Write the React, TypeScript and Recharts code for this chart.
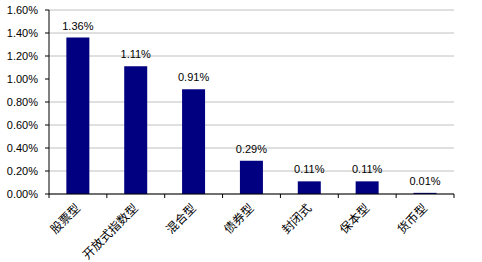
import React from 'react';
import { Bar, BarChart, CartesianGrid, LabelList, XAxis, YAxis } from 'recharts';

const categories = ['股票型', '开放式指数型', '混合型', '债券型', '封闭式', '保本型', '货币型'];
const values = [1.36, 1.11, 0.91, 0.29, 0.11, 0.11, 0.01];
const yTicks = [0, 0.2, 0.4, 0.6, 0.8, 1.0, 1.2, 1.4, 1.6];

const data = categories.map((name, i) => ({ name, value: values[i] }));

const pct = (v: number) => `${v.toFixed(2)}%`;

// half the category band, used to put x tick marks on the band edges
const HALF_BAND = (454 - 49) / categories.length / 2;

const CategoryTick = ({ x, y, payload, index }: any) => (
  <g>
    <line x1={x - HALF_BAND} y1={y - 8} x2={x - HALF_BAND} y2={y - 4} stroke="#000" />
    {index === categories.length - 1 && (
      <line x1={x + HALF_BAND} y1={y - 8} x2={x + HALF_BAND} y2={y - 4} stroke="#000" />
    )}
    <text
      x={x + 3}
      y={y + 7}
      textAnchor="end"
      fontSize={12}
      fontFamily="'Noto Sans CJK SC', sans-serif"
      fill="#000"
      transform={`rotate(-45, ${x + 3}, ${y + 7})`}
    >
      {payload.value}
    </text>
  </g>
);

export default function App() {
  return (
    <div style={{ position: 'absolute', left: 0, top: 0, width: 482, height: 262, background: '#fff' }}>
      <BarChart
        width={482}
        height={262}
        data={data}
        margin={{ top: 10, right: 28, bottom: 0, left: 0 }}
        barCategoryGap="30%"
      >
        <CartesianGrid vertical={false} stroke="#c0c0c0" />
        <XAxis
          dataKey="name"
          height={68}
          tickLine={false}
          axisLine={{ stroke: '#000' }}
          interval={0}
          tick={<CategoryTick />}
        />
        <YAxis
          width={49}
          domain={[0, 1.6]}
          ticks={yTicks}
          tickFormatter={pct}
          axisLine={{ stroke: '#000' }}
          tickLine={{ stroke: '#000' }}
          tickSize={4}
          tickMargin={7}
          tick={{ fill: '#000', fontSize: 11, fontFamily: "'Liberation Sans', Arial, sans-serif" }}
        />
        <Bar dataKey="value" fill="#000080" isAnimationActive={false}>
          <LabelList
            dataKey="value"
            position="top"
            offset={8}
            formatter={(v: any) => pct(Number(v))}
            style={{ fill: '#000', fontSize: 11, fontFamily: "'Liberation Sans', Arial, sans-serif" }}
          />
        </Bar>
      </BarChart>
    </div>
  );
}
